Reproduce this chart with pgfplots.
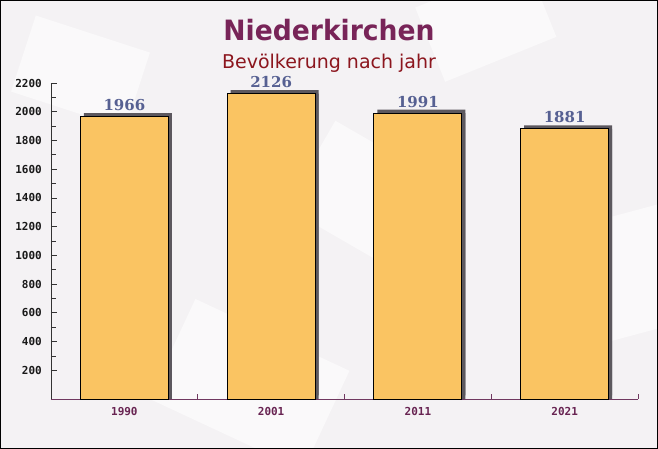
\documentclass[border=0pt]{standalone}
\usepackage{fontspec}
\setmainfont{DejaVu Sans}
\newfontfamily\valfont{DejaVu Serif}[BoldFont={DejaVu Serif Bold}]
\newfontfamily\tickfont{DejaVu Sans Mono Bold}
\usepackage{pgfplots}
\pgfplotsset{compat=1.18}

\definecolor{bgcol}{RGB}{244,242,244}
\definecolor{titlecol}{RGB}{120,36,88}
\definecolor{subcol}{RGB}{140,22,30}
\definecolor{valcol}{RGB}{86,96,146}
\definecolor{barcol}{RGB}{250,196,98}
\definecolor{shadecol}{RGB}{92,88,94}
\definecolor{xlabcol}{RGB}{104,36,82}
\definecolor{xaxcol}{RGB}{112,56,96}

\begin{document}
\begin{tikzpicture}
  % page frame: axis box starts at (51,399) of the 658x449 image
  \path[use as bounding box] (-51pt,-50pt) rectangle (607pt,399pt);
  \fill[bgcol] (-51pt,-50pt) rectangle (607pt,399pt);
  % faint paper shapes in the background
  \begin{scope}[white, opacity=0.55]
    \fill[rotate around={-18:(20pt,330pt)}] (-30pt,290pt) rectangle (90pt,370pt);
    \fill[rotate around={22:(420pt,360pt)}] (380pt,330pt) rectangle (500pt,410pt);
    \fill[rotate around={-25:(200pt,30pt)}] (120pt,-40pt) rectangle (290pt,70pt);
    \fill[rotate around={15:(560pt,120pt)}] (500pt,60pt) rectangle (640pt,180pt);
    \fill[rotate around={-30:(320pt,200pt)}] (250pt,150pt) rectangle (380pt,250pt);
  \end{scope}

  \node[font=\bfseries\fontsize{28}{28}\selectfont, text=titlecol, anchor=base]
    at (278pt,358pt) {\scalebox{0.95}[1]{Niederkirchen}};
  \node[font=\fontsize{19}{19}\selectfont, text=subcol, anchor=base]
    at (278pt,330pt) {Bevölkerung nach jahr};

  \begin{axis}[
      at={(0pt,0pt)}, anchor=south west,
      scale only axis,
      width=587pt, height=316pt,
      xmin=-0.5, xmax=3.5,
      ymin=0, ymax=2200,
      ybar, bar width=88pt,
      axis x line*=bottom, axis y line*=left,
      x axis line style={draw=xaxcol, line width=0.8pt, -},
      y axis line style={draw=black!80, line width=0.8pt, -},
      tick align=inside,
      xtick={0,1,2,3},
      xticklabels={1990,2001,2011,2021},
      minor xtick={0.5,1.5,2.5,3.5},
      major x tick style={draw=none},
      minor x tick style={draw=xaxcol, line width=0.8pt},
      ytick={200,400,...,2200},
      minor y tick num=1,
      y tick style={draw=black!80, line width=0.8pt},
      major tick length=5.5pt,
      minor tick length=4.5pt,
      xticklabel style={font=\tickfont\fontsize{11}{11}\selectfont,
        text=xlabcol, inner sep=0pt, yshift=-8pt},
      yticklabel style={font=\tickfont\fontsize{11}{11}\selectfont,
        text=black!90, inner sep=0pt, xshift=-9pt},
      /pgf/number format/assume math mode=true,
      /pgf/number format/1000 sep={},
      clip=false,
    ]
    % extruded shadow behind each bar
    \addplot[fill=shadecol, draw=none, bar shift=3.5pt]
      coordinates {(0,1966) (1,2126) (2,1991) (3,1881)};
    \addplot[fill=shadecol, draw=none, bar shift=3.5pt, yshift=3.5pt]
      coordinates {(0,1966) (1,2126) (2,1991) (3,1881)};
    % the bars
    \addplot[fill=barcol, draw=black, line width=0.8pt, bar shift=0pt,
      nodes near coords,
      every node near coord/.append style={
        font=\valfont\bfseries\fontsize{15}{15}\selectfont,
        text=valcol, anchor=base, inner sep=0pt, yshift=6pt},
      /pgf/number format/1000 sep={}]
      coordinates {(0,1966) (1,2126) (2,1991) (3,1881)};
  \end{axis}

  \draw[black, line width=1pt] (-50.5pt,-49.5pt) rectangle (606.5pt,398.5pt);
\end{tikzpicture}
\end{document}
